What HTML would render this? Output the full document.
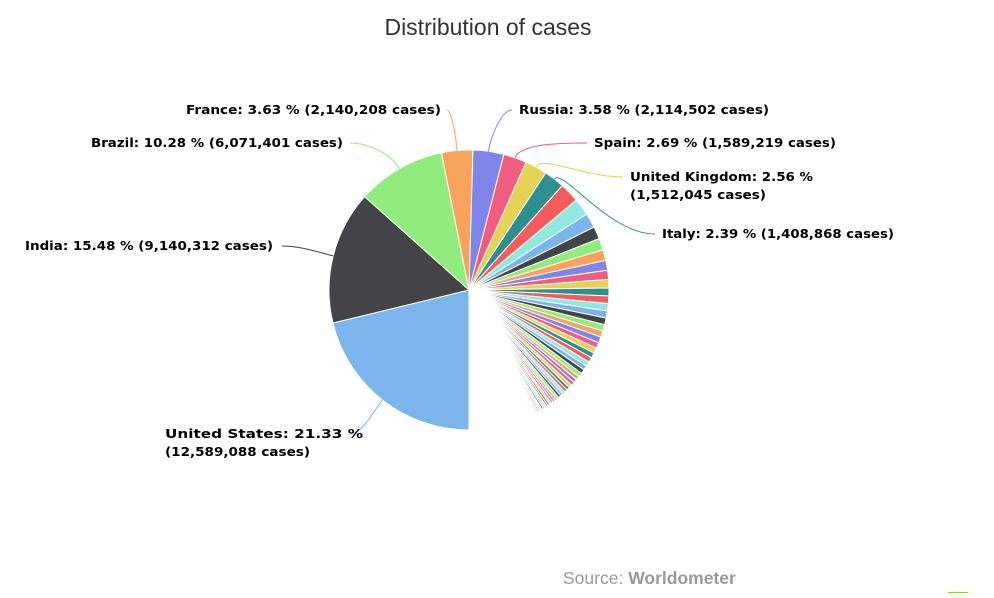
<!DOCTYPE html>
<html><head><meta charset="utf-8"><style>
html,body{margin:0;padding:0;background:#fff;}
svg{display:block;}
.lbl{font-family:"DejaVu Sans","Liberation Sans",sans-serif;font-size:12.5px;font-weight:bold;fill:#000;}
</style></head><body>
<svg id="chart" width="994" height="598" viewBox="0 0 994 598">
<text x="488" y="35" text-anchor="middle" font-family="Liberation Sans, sans-serif" font-size="23" fill="#333">Distribution of cases</text>
<g id="slices"></g>
<g id="labels"></g>
<text x="563" y="584" font-family="Liberation Sans, sans-serif" font-size="17.5" fill="#999">Source: <tspan font-weight="bold">Worldometer</tspan></text>
<line x1="948" y1="592.5" x2="968" y2="592.5" stroke="#90d040" stroke-width="1"/>
</svg>
<script>
const names = ["United States","India","Brazil","France","Russia","Spain","United Kingdom","Italy"];
const cases = ["12,589,088","9,140,312","6,071,401","2,140,208","2,114,502","1,589,219","1,512,045","1,408,868"];
const shares = [21.33,15.48,10.28,3.63,3.58,2.69,2.56,2.39,
2.30,2.00,1.70,1.45,1.35,1.25,1.15,1.05,0.98,0.92,0.88,0.85,0.82,0.78,0.75,0.72,0.70,0.66,0.63,0.60,0.57,0.54,0.52,0.50,0.47,0.45,0.43,0.41,0.39,0.37,0.35,0.33,0.31,0.30,0.28,0.27,0.26,0.25,0.24,0.23,0.22,0.21,0.20,0.19,0.18,0.17,0.16,0.15,0.14,0.13,0.12,0.11,
0.10,0.10,0.10,0.09,0.09,0.09,0.09,0.08,0.08,0.08,0.08,0.08,0.07,0.07,0.07,0.07,0.07,0.07,0.06,0.06,0.06,0.06,0.06,0.06,0.06,0.05,0.05,0.05,0.05,0.05,0.05,0.05,0.05,
0.05,0.05,0.04,0.04,0.04,0.04,0.04,0.04,0.04,0.04,0.04,0.04,0.04,0.04,0.04,0.04,0.04,0.04,0.04,0.04,0.04,0.03,0.03,0.03,0.03,0.03,0.03,0.03,0.03,0.03,0.03,0.03,
0.03,0.03,0.03,0.03,0.03,0.03,0.03,0.03,0.03,0.03,0.03,0.03,0.03,0.03,0.03,0.03,0.03,0.03,0.03,0.03,0.03,0.03,0.03,0.03,0.03,0.03,0.03,0.03,0.03,0.03,0.03,0.03,
0.03,0.03,0.03,0.03,0.03,0.03,0.03,0.03,0.03,0.03,0.03,0.03,0.03,0.03,0.03,0.03,0.03,0.03,0.03,0.03,0.03,0.03,0.03,0.03,0.03,0.03,0.03,0.03,0.03,0.03,0.03,0.03,
0.03,0.03,0.03,0.03,0.03,0.03,0.03,0.03,0.02,0.02,0.02,0.02,0.02,0.02,0.02,0.02,0.02,0.02,0.02,0.02,0.02,0.02,0.02,0.02,0.02,0.02,0.02,0.02,0.02,0.02,0.02,0.02,
0.02,0.02,0.02,0.02,0.02,0.02,0.02,0.02,0.02,0.02,0.02,0.02,0.02,0.02,0.02,0.02,0.02,0.02,0.02,0.02,0.02,0.02,0.02,0.02,0.02,0.02,0.02,0.02,0.02,0.02,0.02,0.02,
0.02,0.02,0.02,0.02,0.02,0.02,0.02,0.02,0.02,0.02,0.02,0.02,0.02,0.02,0.02,0.02,0.02,0.02,0.02,0.02,0.01,0.01,0.01,0.01,0.01,0.01,0.01,0.01,0.01,0.01,0.01,0.01,
0.01,0.01,0.01,0.01,0.01,0.01,0.01,0.01,0.01,0.01,0.01,0.01,0.01,0.01,0.01,0.01,0.01,0.01,0.01,0.01,0.01,0.01,0.01,0.01,0.01,0.01,0.01,0.01,0.01,0.01,0.01,0.01];
const colors = ["#7cb5ec","#434348","#90ed7d","#f7a35c","#8085e9","#f15c80","#e4d354","#2b908f","#f45b5b","#91e8e1"];
// label layout: [anchor x, y, text-anchor, connector start x, textLength line1, textLength line2]
const labelPos = [[165,438,"start",350,198,145],[273,250,"end",282,248,0],[343,147,"end",350,252,0],[441,114,"end",447,255,0],[519,114,"start",512,250,0],[594,147,"start",587,242,0],[630,181,"start",623,183,136],[662,238,"start",655,232,0]];

const cx=469, cy=290, r=140, start=180;
const total = shares.reduce((a,b)=>a+b,0);
const ns="http://www.w3.org/2000/svg";
function pt(deg,rad){const a=deg*Math.PI/180;return [cx+rad*Math.sin(a), cy-rad*Math.cos(a)];}
const gS=document.getElementById('slices'), gL=document.getElementById('labels');
let ang=start;
shares.forEach((v,i)=>{
  const sweep=v/total*360;
  const a0=ang, a1=ang+sweep; ang=a1;
  const p0=pt(a0,r), p1=pt(a1,r);
  const path=document.createElementNS(ns,'path');
  path.setAttribute('d',`M${cx},${cy}L${p0[0].toFixed(2)},${p0[1].toFixed(2)}A${r},${r} 0 ${sweep>180?1:0} 1 ${p1[0].toFixed(2)},${p1[1].toFixed(2)}Z`);
  path.setAttribute('fill',colors[i%colors.length]);
  path.setAttribute('stroke','#fff');
  path.setAttribute('stroke-width','1');
  path.setAttribute('stroke-linejoin','round');
  
  
  gS.appendChild(path);
  if(i<names.length){
    const lp=labelPos[i];
    const mid=(a0+a1)/2, e=pt(mid,r), e2=pt(mid,r+14);
    const c=document.createElementNS(ns,'path');
    c.setAttribute('d',`M${lp[3]},${lp[1]-4}C${(lp[3]+e2[0])/2},${lp[1]-4} ${e2[0]},${e2[1]} ${e[0].toFixed(1)},${e[1].toFixed(1)}`);
    c.setAttribute('fill','none');
    c.setAttribute('stroke',colors[i%colors.length]);
    c.setAttribute('stroke-width','1');
    
    
    gL.appendChild(c);
    const pct=v.toFixed(2)+' %';
    if(lp[5]){
      const lines=[names[i]+': '+pct,'('+cases[i]+' cases)'];
      lines.forEach((s,k)=>{
        const t=document.createElementNS(ns,'text');
        t.setAttribute('class','lbl');
        t.setAttribute('x',lp[0]);t.setAttribute('y',lp[1]+k*18);
        t.setAttribute('textLength',k?lp[5]:lp[4]);t.setAttribute('lengthAdjust','spacingAndGlyphs');
        
        
        t.textContent=s;
        gL.appendChild(t);
      });
    } else {
      const t=document.createElementNS(ns,'text');
      t.setAttribute('class','lbl');
      t.setAttribute('x',lp[0]);t.setAttribute('y',lp[1]);
      t.setAttribute('text-anchor',lp[2]);
      
      
      t.textContent=names[i]+': '+pct+' ('+cases[i]+' cases)';
      t.setAttribute('textLength',lp[4]);t.setAttribute('lengthAdjust','spacingAndGlyphs');
      gL.appendChild(t);
    }
  }
});
</script>
</body></html>
